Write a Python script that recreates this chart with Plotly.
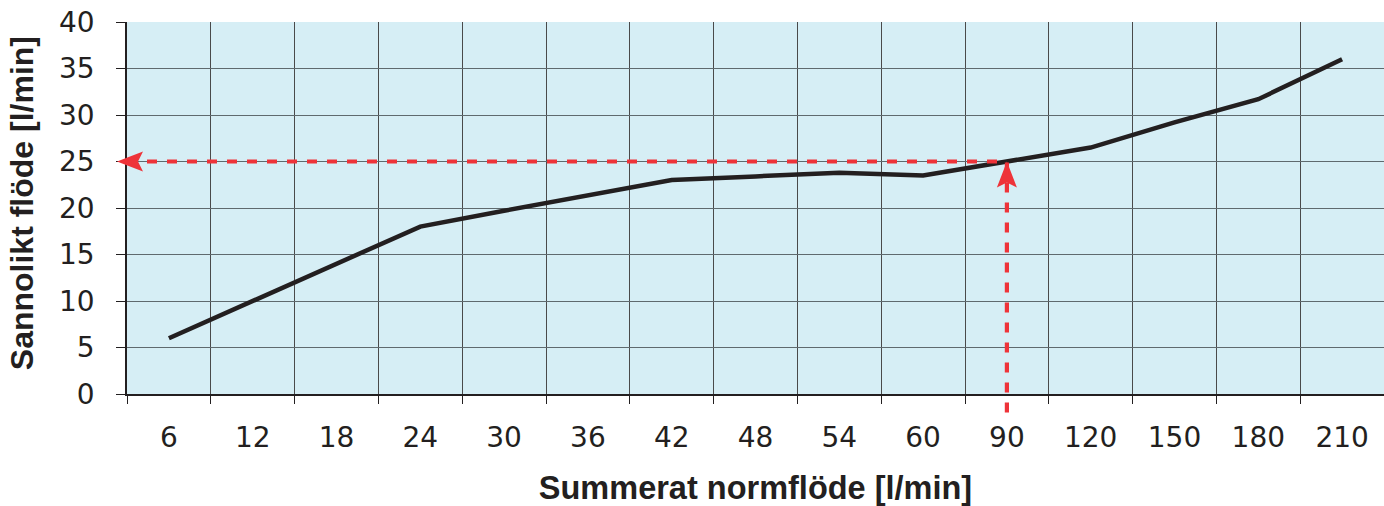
import plotly.graph_objects as go

# ---- data ----
categories = ["6", "12", "18", "24", "30", "36", "42", "48", "54", "60",
              "90", "120", "150", "180", "210"]
probable_flow = [6.0, 10.0, 14.0, 18.0, 19.7, 21.3, 23.0, 23.4, 23.8, 23.5,
                 25.0, 26.5, 29.2, 31.7, 36.0]
y_ticks = [0, 5, 10, 15, 20, 25, 30, 35, 40]
read_category = "90"
read_value = 25

x_title = "Summerat normflöde [l/min]"
y_title = "Sannolikt flöde [l/min]"

# ---- style ----
BG = "#d6eef5"
RED = "#ee3339"
INK = "#231f20"
FONT = "Liberation Sans, Arial, sans-serif"
TICK_FONT = "DejaVu Sans, Liberation Sans, sans-serif"
Y_MAX = y_ticks[-1]

fig = go.Figure()
fig.add_trace(go.Scatter(
    x=categories, y=probable_flow, mode="lines",
    line=dict(color=INK, width=4.5), hoverinfo="skip", showlegend=False,
))

read_idx = categories.index(read_category)

# horizontal dashed reading line
fig.add_shape(type="line", xref="x", yref="y",
              x0=-0.5, x1=read_idx, y0=read_value, y1=read_value,
              line=dict(color=RED, width=4.2, dash="10px,10px"), layer="above")
# vertical dashed reading line (extends below axis)
fig.add_shape(type="line", xref="x", yref="paper",
              x0=read_idx, x1=read_idx, y0=-0.05, y1=read_value / Y_MAX,
              line=dict(color=RED, width=4.2, dash="10px,10px"), layer="above")
# left arrowhead
fig.add_shape(type="path", xref="paper", yref="y",
              xsizemode="pixel", ysizemode="pixel", xanchor=0, yanchor=read_value,
              path="M -10,0 L 16,10 L 11,0 L 16,-10 Z",
              fillcolor=RED, line=dict(width=0), layer="above")
# up arrowhead
fig.add_shape(type="path", xref="x", yref="y",
              xsizemode="pixel", ysizemode="pixel", xanchor=read_idx, yanchor=read_value,
              path="M 0,0 L 10,-26 L 0,-21 L -10,-26 Z",
              fillcolor=RED, line=dict(width=0), layer="above")

# y-axis title as a rotated annotation (placed further left than axis title allows)
fig.add_annotation(
    text=y_title, xref="paper", yref="paper", x=-0.0835, y=0.513,
    xanchor="center", yanchor="middle", textangle=-90, showarrow=False,
    font=dict(size=32, color=INK, family=FONT, weight="bold"),
)

fig.update_layout(
    width=1384, height=506,
    margin=dict(l=127, r=0, t=22, b=112, autoexpand=False),
    paper_bgcolor="white", plot_bgcolor=BG,
    font=dict(family=FONT, color=INK),
    showlegend=False,
)
fig.update_xaxes(
    type="category", categoryorder="array", categoryarray=categories,
    range=[-0.5, len(categories) - 0.5], automargin=False,
    tickson="boundaries", ticks="outside", ticklen=8, tickcolor=INK, tickwidth=1.3,
    showgrid=True, gridcolor="#4a4a4a", gridwidth=1,
    showline=True, linecolor=INK, linewidth=1.6,
    tickfont=dict(size=28, color=INK, family=TICK_FONT), ticklabelstandoff=18,
    ticklabeloverflow="allow",
    title=dict(text=x_title, font=dict(size=32.5, color=INK, family=FONT, weight="bold"),
               standoff=27),
    fixedrange=True,
)
fig.update_yaxes(
    range=[0, Y_MAX], tickvals=y_ticks, automargin=False,
    ticks="outside", ticklen=9, tickcolor=INK, tickwidth=1.3,
    showgrid=True, gridcolor="#5f6a6e", gridwidth=1, zeroline=False,
    showline=True, linecolor=INK, linewidth=1.6,
    tickfont=dict(size=28, color=INK, family=TICK_FONT), ticklabelstandoff=16,
    ticklabeloverflow="allow",
    fixedrange=True,
)

fig.write_html("out.html", config={"displayModeBar": False},
               post_script="document.body.style.margin='0';")
